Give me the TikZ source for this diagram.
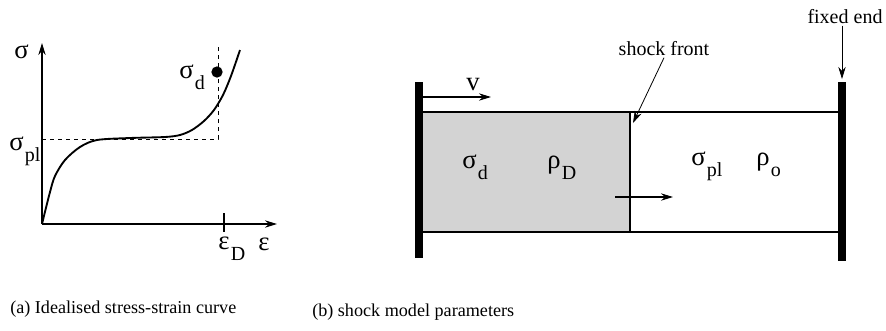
\documentclass[tikz,border=0pt]{standalone}
\usepackage{fontspec}
\setmainfont{Liberation Serif}
\usepackage{xcolor}
\usetikzlibrary{arrows.meta,positioning,calc}
\definecolor{densegrey}{RGB}{211,211,211}
\newcommand\dn[1]{\kern1pt\raisebox{-0.95ex}{\fontsize{15}{15}\selectfont #1}}

\begin{document}
\begin{tikzpicture}[x=0.75pt,y=-0.75pt,font=\fontsize{14}{16}\selectfont,
  >={Stealth[length=9pt,width=5.5pt]},
  greek/.style={font=\fontsize{20}{21}\selectfont, inner sep=0pt, anchor=base west},
  caption/.style={font=\fontsize{13.6}{16}\selectfont, inner sep=0pt, anchor=base west},
  tag/.style={font=\fontsize{15}{17}\selectfont, inner sep=1pt},
  axis/.style={line width=1.1pt},
  wall/.style={line width=5.5pt},
  tube/.style={line width=1.1pt}]
  \useasboundingbox (0,0) rectangle (886,330);

  % (a) stress-strain curve
  \coordinate (origin) at (42,224);
  \coordinate (sigma axis) at (42,43);
  \coordinate (eps axis) at (277,224);
  \coordinate (plateau) at (218,139);
  \draw[axis,->] (origin) -- (sigma axis);
  \draw[axis,->] (origin) -- (eps axis);
  \draw[dashed, line width=0.6pt] (origin |- plateau) -- (plateau) -- (218,47);
  \draw[line width=0.8pt] (224,213) -- (224,232);
  \draw[line width=1.4pt] plot[smooth, tension=0.5] coordinates {(42,224) (50,192) (55,176) (65,160) (80,147) (97,140) (130,138) (165,137) (180,135) (192,130) (204,121) (214,110) (223,95) (231,76) (240,50)};
  \node[circle, fill=black, inner sep=0pt, minimum size=8.5pt] (dot) at (217,72) {};
  \node[greek] (sig) at (14,58) {σ};
  \node[greek] (sigpl) at (9,150) {σ\dn{pl}};
  \node[greek] (sigd) at (179,78) {σ\dn{d}};
  \node[greek] (eps) at (258,250) {ε};
  \node[greek] (epsD) at (218,249) {ε\dn{D}};

  % (b) shock model
  \coordinate (front top) at (630,112);
  \coordinate (front bot) at (630,232);
  \fill[densegrey] (419,112) rectangle (front bot);
  \draw[tube] (419,112) -- (842,112);
  \draw[tube] (419,232) -- (842,232);
  \draw[tube] (front top) -- (front bot);
  \draw[wall] (419,82) -- (419,258);
  \draw[wall] (842,82) -- (842,261);
  \coordinate (v start) at (423,97);
  \coordinate (v end) at (491,97);
  \draw[line width=0.8pt,->] (v start) -- (v end);
  \node[greek] (vel) at (466,90) {v};
  \coordinate (move start) at (615,197);
  \coordinate (move end) at (673,197);
  \draw[line width=0.8pt,->] (move start) -- (move end);
  \node[greek] (sigdense) at (462,168) {σ\dn{d}};
  \node[greek] (rhodense) at (547,168) {ρ\dn{D}};
  \node[greek] (sigfree) at (691,165) {σ\dn{pl}};
  \node[greek] (rhofree) at (756,165) {ρ\dn{o}};
  \node[tag] (frontlbl) at (664,49) {shock front};
  \coordinate (front tip) at (633,123);
  \draw[line width=0.6pt,->] (frontlbl.south -| 664,0) -- (front tip);
  \node[tag] (fixedlbl) at (845,17) {fixed end};
  \coordinate (wall tip) at (842,79);
  \draw[line width=0.6pt,->] (fixedlbl.south -| wall tip) -- (wall tip);

  % captions
  \node[caption] (capa) at (10,313) {(a) Idealised stress-strain curve};
  \node[caption] (capb) at (312,316) {(b) shock model parameters};
\end{tikzpicture}
\end{document}
